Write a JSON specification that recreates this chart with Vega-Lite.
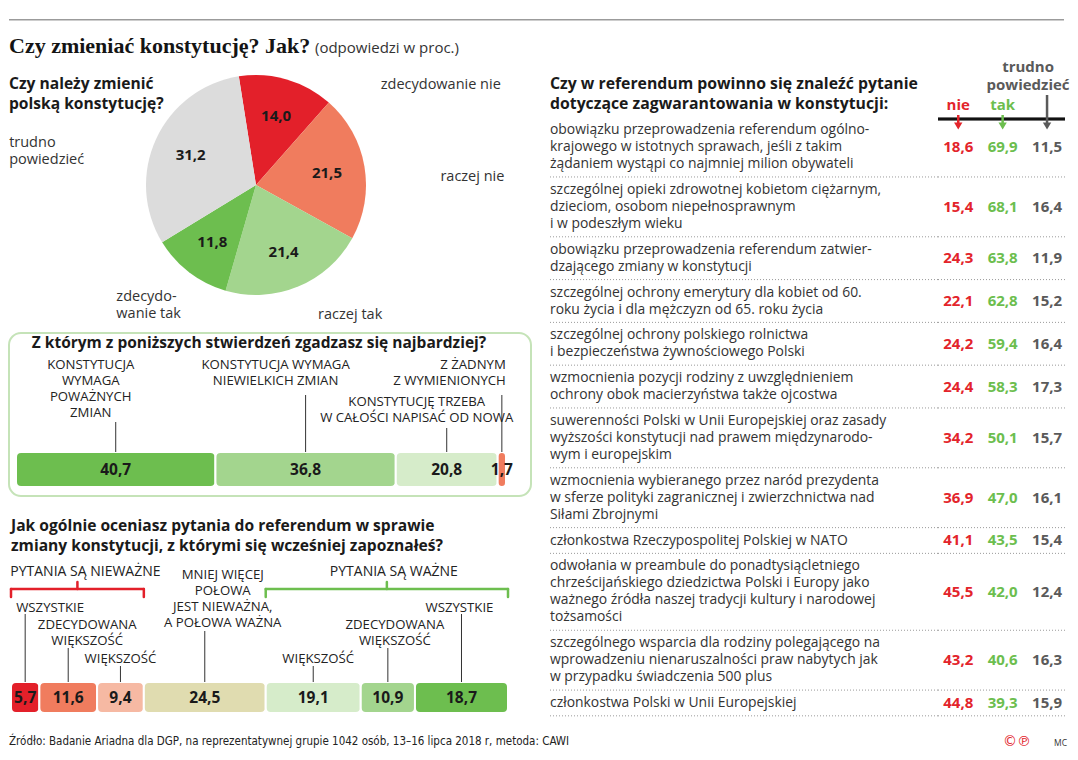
{
  "$schema": "https://vega.github.io/schema/vega-lite/v6.json",
  "background": "white",
  "padding": {"left": 8, "top": 19, "right": 0, "bottom": 0},
  "spacing": 0,
  "resolve": {"scale": {"color": "independent"}},
  "config": {"view": {"stroke": null}, "font": "Open Sans"},
  "datasets": {
    "tab": [
      {"q": ["obowiązku przeprowadzenia referendum ogólno-", "krajowego w istotnych sprawach, jeśli z takim", "żądaniem wystąpi co najmniej milion obywateli"], "nie": 18.6, "tak": 69.9, "tp": 11.5},
      {"q": ["szczególnej opieki zdrowotnej kobietom ciężarnym,", "dzieciom, osobom niepełnosprawnym", "i w podeszłym wieku"], "nie": 15.4, "tak": 68.1, "tp": 16.4},
      {"q": ["obowiązku przeprowadzenia referendum zatwier-", "dzającego zmiany w konstytucji"], "nie": 24.3, "tak": 63.8, "tp": 11.9},
      {"q": ["szczególnej ochrony emerytury dla kobiet od 60.", "roku życia i dla mężczyzn od 65. roku życia"], "nie": 22.1, "tak": 62.8, "tp": 15.2},
      {"q": ["szczególnej ochrony polskiego rolnictwa", "i bezpieczeństwa żywnościowego Polski"], "nie": 24.2, "tak": 59.4, "tp": 16.4},
      {"q": ["wzmocnienia pozycji rodziny z uwzględnieniem", "ochrony obok macierzyństwa także ojcostwa"], "nie": 24.4, "tak": 58.3, "tp": 17.3},
      {"q": ["suwerenności Polski w Unii Europejskiej oraz zasady", "wyższości konstytucji nad prawem międzynarodo-", "wym i europejskim"], "nie": 34.2, "tak": 50.1, "tp": 15.7},
      {"q": ["wzmocnienia wybieranego przez naród prezydenta", "w sferze polityki zagranicznej i zwierzchnictwa nad", "Siłami Zbrojnymi"], "nie": 36.9, "tak": 47.0, "tp": 16.1},
      {"q": ["członkostwa Rzeczypospolitej Polskiej w NATO"], "nie": 41.1, "tak": 43.5, "tp": 15.4},
      {"q": ["odwołania w preambule do ponadtysiącletniego", "chrześcijańskiego dziedzictwa Polski i Europy jako", "ważnego źródła naszej tradycji kultury i narodowej", "tożsamości"], "nie": 45.5, "tak": 42.0, "tp": 12.4},
      {"q": ["szczególnego wsparcia dla rodziny polegającego na", "wprowadzeniu nienaruszalności praw nabytych jak", "w przypadku świadczenia 500 plus"], "nie": 43.2, "tak": 40.6, "tp": 16.3},
      {"q": ["członkostwa Polski w Unii Europejskiej"], "nie": 44.8, "tak": 39.3, "tp": 15.9}
    ],
    "hdr": [
      {"key": "nie", "t": "nie"},
      {"key": "tak", "t": "tak"},
      {"key": "tp", "t": ["trudno", "powiedzieć"]}
    ]
  },
  "vconcat": [
    {
      "width": 1070,
      "height": 40,
      "view": {"fill": "white", "stroke": null},
      "data": {"values": [{"t": "Czy zmieniać konstytucję? Jak?", "s": "(odpowiedzi w proc.)"}]},
      "layer": [
        {"mark": {"type": "rule", "color": "#9b9b9b", "strokeWidth": 1.5}, "encoding": {"x": {"value": 0}, "x2": {"value": 1055}, "y": {"value": 0.75}}},
        {"mark": {"type": "text", "font": "Liberation Serif", "fontSize": 22, "fontWeight": "bold", "align": "left", "baseline": "alphabetic", "color": "#141414"}, "encoding": {"x": {"value": 0}, "y": {"value": 34}, "text": {"field": "t"}}},
        {"mark": {"type": "text", "fontSize": 15, "align": "left", "baseline": "alphabetic", "color": "#333333"}, "encoding": {"x": {"value": 306}, "y": {"value": 34}, "text": {"field": "s"}}}
      ]
    },
    {
      "spacing": 17,
      "resolve": {"scale": {"color": "independent"}},
      "hconcat": [
        {
          "spacing": 22,
          "bounds": "flush",
          "resolve": {"scale": {"color": "independent"}},
          "vconcat": [
            {
              "width": 494,
              "height": 252,
              "data": {"values": [
                {"k": "zn", "lab": "zdecydowanie nie", "v": 14.0},
                {"k": "rn", "lab": "raczej nie", "v": 21.5},
                {"k": "rt", "lab": "raczej tak", "v": 21.4},
                {"k": "zt", "lab": ["zdecydo-", "wanie tak"], "v": 11.8},
                {"k": "tp", "lab": ["trudno", "powiedzieć"], "v": 31.2}
              ]},
              "transform": [
                {"window": [{"op": "sum", "field": "v", "as": "end"}], "frame": [null, 0]},
                {"calculate": "datum.end - datum.v", "as": "start"},
                {"calculate": "datum.end - datum.v / 2", "as": "mid"},
                {"calculate": "replace(format(datum.v, '.1f'), '.', ',')", "as": "lbl"}
              ],
              "layer": [
                {
                  "mark": {"type": "arc", "radius": 110},
                  "encoding": {
                    "theta": {"field": "start", "type": "quantitative", "stack": null, "scale": {"domain": [0, 99.9], "range": [-0.157, 6.126]}},
                    "theta2": {"field": "end"},
                    "color": {"field": "k", "type": "nominal", "scale": {"domain": ["zn", "rn", "rt", "zt", "tp"], "range": ["#e3202a", "#f07c5e", "#a3d58e", "#6dbe4f", "#dcdcdc"]}, "legend": null}
                  }
                },
                {
                  "mark": {"type": "text", "radius": 72, "fontSize": 15, "fontWeight": "bold", "color": "#1a1a1a"},
                  "encoding": {
                    "theta": {"field": "mid", "type": "quantitative", "stack": null, "scale": {"domain": [0, 99.9], "range": [-0.157, 6.126]}},
                    "text": {"field": "lbl"}
                  }
                },
                {
                  "mark": {"type": "text", "radius": 110, "align": "left", "baseline": "top", "fontSize": 14.5, "lineHeight": 17.6, "color": "#333333",
                    "dx": {"expr": "datum.k == 'zn' ? 94 : datum.k == 'rn' ? 76 : datum.k == 'rt' ? 20 : datum.k == 'zt' ? -73 : -147"},
                    "dy": {"expr": "datum.k == 'zn' ? -1.1 : datum.k == 'rn' ? 3.9 : datum.k == 'rt' ? 20.9 : datum.k == 'zt' ? 17.4 : -3.1"}},
                  "encoding": {
                    "theta": {"field": "mid", "type": "quantitative", "stack": null, "scale": {"domain": [0, 99.9], "range": [-0.157, 6.126]}},
                    "text": {"field": "lab"}
                  }
                },
                {
                  "data": {"values": [{"t": ["Czy należy zmienić", "polską konstytucję?"]}]},
                  "mark": {"type": "text", "align": "left", "baseline": "top", "fontSize": 15.6, "fontWeight": "bold", "lineHeight": 20, "color": "#1a1a1a"},
                  "encoding": {"x": {"value": 0}, "y": {"value": 18.4}, "text": {"field": "t"}}
                }
              ]
            },
            {
              "width": 522,
              "height": 163,
              "view": {"stroke": "#c5e3b8", "strokeWidth": 2, "cornerRadius": 12},
              "data": {"values": [
                {"k": "pow", "v": 40.7, "lab": ["KONSTYTUCJA", "WYMAGA", "POWAŻNYCH", "ZMIAN"]},
                {"k": "nie", "v": 36.8, "lab": ["KONSTYTUCJA WYMAGA", "NIEWIELKICH ZMIAN"]},
                {"k": "now", "v": 20.8, "lab": ["KONSTYTUCJĘ TRZEBA", "W CAŁOŚCI NAPISAĆ OD NOWA"]},
                {"k": "zad", "v": 1.7, "lab": ["Z ŻADNYM", "Z WYMIENIONYCH"]}
              ]},
              "transform": [
                {"window": [{"op": "sum", "field": "v", "as": "end"}], "frame": [null, 0]},
                {"calculate": "datum.end - datum.v", "as": "start"},
                {"calculate": "datum.end - datum.v / 2", "as": "mid"},
                {"calculate": "replace(format(datum.v, '.1f'), '.', ',')", "as": "lbl"}
              ],
              "layer": [
                {
                  "mark": {"type": "bar", "cornerRadius": 5, "stroke": "white", "strokeWidth": 2},
                  "encoding": {
                    "x": {"field": "start", "type": "quantitative", "scale": {"domain": [-1.43, 105.1], "nice": false, "zero": false}, "axis": null},
                    "x2": {"field": "end"},
                    "y": {"value": 119},
                    "y2": {"value": 154},
                    "color": {"field": "k", "type": "nominal", "scale": {"domain": ["pow", "nie", "now", "zad"], "range": ["#6dbe4f", "#a3d58e", "#d6ecca", "#f07c5e"]}, "legend": null}
                  }
                },
                {
                  "mark": {"type": "text", "fontSize": 15.5, "fontWeight": "bold", "color": "#1a1a1a", "baseline": "middle"},
                  "encoding": {"x": {"field": "mid", "type": "quantitative"}, "y": {"value": 137}, "text": {"field": "lbl"}}
                },
                {
                  "mark": {"type": "rule", "color": "#333333", "strokeWidth": 1},
                  "encoding": {
                    "x": {"field": "mid", "type": "quantitative"},
                    "y": {"value": {"expr": "datum.k == 'pow' ? 89 : datum.k == 'now' ? 95 : 62"}},
                    "y2": {"value": 119}
                  }
                },
                {
                  "mark": {"type": "text", "baseline": "top", "fontSize": 13.2, "lineHeight": 16, "color": "#222222",
                    "align": {"expr": "datum.k == 'zad' ? 'right' : 'center'"},
                    "dx": {"expr": "datum.k == 'pow' ? -25 : datum.k == 'nie' ? -30 : datum.k == 'now' ? -30 : 4"}},
                  "encoding": {
                    "x": {"field": "mid", "type": "quantitative"},
                    "y": {"value": {"expr": "datum.k == 'now' ? 62.5 : 25.5"}},
                    "text": {"field": "lab"}
                  }
                },
                {
                  "data": {"values": [{"t": "Z którym z poniższych stwierdzeń zgadzasz się najbardziej?"}]},
                  "mark": {"type": "text", "align": "center", "baseline": "middle", "fontSize": 15.5, "fontWeight": "bold", "color": "#1a1a1a"},
                  "encoding": {"x": {"value": 250}, "y": {"value": 10}, "text": {"field": "t"}}
                }
              ]
            },
            {
              "width": 500,
              "height": 197,
              "data": {"values": [
                {"k": "n3", "grp": "n", "gl": "PYTANIA SĄ NIEWAŻNE", "v": 5.7, "lab": ["WSZYSTKIE"]},
                {"k": "n2", "grp": "n", "gl": "PYTANIA SĄ NIEWAŻNE", "v": 11.6, "lab": ["ZDECYDOWANA", "WIĘKSZOŚĆ"]},
                {"k": "n1", "grp": "n", "gl": "PYTANIA SĄ NIEWAŻNE", "v": 9.4, "lab": ["WIĘKSZOŚĆ"]},
                {"k": "m", "grp": "m", "gl": "", "v": 24.5, "lab": ["MNIEJ WIĘCEJ", "POŁOWA", "JEST NIEWAŻNA,", "A POŁOWA WAŻNA"]},
                {"k": "t1", "grp": "t", "gl": "PYTANIA SĄ WAŻNE", "v": 19.1, "lab": ["WIĘKSZOŚĆ"]},
                {"k": "t2", "grp": "t", "gl": "PYTANIA SĄ WAŻNE", "v": 10.9, "lab": ["ZDECYDOWANA", "WIĘKSZOŚĆ"]},
                {"k": "t3", "grp": "t", "gl": "PYTANIA SĄ WAŻNE", "v": 18.7, "lab": ["WSZYSTKIE"]}
              ]},
              "transform": [
                {"window": [{"op": "sum", "field": "v", "as": "end"}], "frame": [null, 0]},
                {"calculate": "datum.end - datum.v", "as": "start"},
                {"calculate": "datum.end - datum.v / 2", "as": "mid"},
                {"calculate": "replace(format(datum.v, '.1f'), '.', ',')", "as": "lbl"}
              ],
              "resolve": {"scale": {"color": "independent"}},
              "layer": [
                {
                  "mark": {"type": "bar", "cornerRadius": 5, "stroke": "white", "strokeWidth": 2},
                  "encoding": {
                    "x": {"field": "start", "type": "quantitative", "scale": {"domain": [-0.402, 100.1], "nice": false, "zero": false}, "axis": null},
                    "x2": {"field": "end"},
                    "y": {"value": 164},
                    "y2": {"value": 195},
                    "color": {"field": "k", "type": "nominal", "scale": {"domain": ["n3", "n2", "n1", "m", "t1", "t2", "t3"], "range": ["#e3202a", "#f07c5e", "#f6b9a3", "#e0dcb0", "#d6ecca", "#a3d58e", "#6dbe4f"]}, "legend": null}
                  }
                },
                {
                  "mark": {"type": "text", "fontSize": 15.5, "fontWeight": "bold", "color": "#1a1a1a", "baseline": "middle"},
                  "encoding": {"x": {"field": "mid", "type": "quantitative"}, "y": {"value": 180}, "text": {"field": "lbl"}}
                },
                {
                  "mark": {"type": "rule", "color": "#333333", "strokeWidth": 1},
                  "encoding": {
                    "x": {"field": "mid", "type": "quantitative"},
                    "y": {"value": {"expr": "(datum.k == 'n3' || datum.k == 't3') ? 96 : (datum.k == 'n2' || datum.k == 't2') ? 130 : datum.k == 'm' ? 113 : 148"}},
                    "y2": {"value": 164}
                  }
                },
                {
                  "mark": {"type": "text", "baseline": "top", "fontSize": 13.2, "lineHeight": 16, "color": "#222222",
                    "align": {"expr": "datum.k == 'n3' ? 'left' : 'center'"},
                    "dx": {"expr": "datum.k == 'n3' ? -9 : datum.k == 'n2' ? 19 : datum.k == 'm' ? 18 : datum.k == 't1' ? 5 : datum.k == 't2' ? 7 : datum.k == 't3' ? -2 : 0"}},
                  "encoding": {
                    "x": {"field": "mid", "type": "quantitative"},
                    "y": {"value": {"expr": "(datum.k == 'n3' || datum.k == 't3') ? 83.5 : (datum.k == 'n2' || datum.k == 't2') ? 100.5 : datum.k == 'm' ? 50.5 : 134.5"}},
                    "text": {"field": "lab"}
                  }
                },
                {
                  "transform": [
                    {"filter": "datum.grp != 'm'"},
                    {"aggregate": [{"op": "min", "field": "start", "as": "gs"}, {"op": "max", "field": "end", "as": "ge"}], "groupby": ["grp", "gl"]},
                    {"calculate": "(datum.gs + datum.ge) / 2", "as": "gm"}
                  ],
                  "layer": [
                    {
                      "mark": {"type": "rule", "strokeWidth": 2.5, "strokeCap": "round"},
                      "encoding": {
                        "x": {"field": "gs", "type": "quantitative"},
                        "x2": {"field": "ge"},
                        "y": {"value": 71},
                        "color": {"field": "grp", "type": "nominal", "scale": {"domain": ["n", "t"], "range": ["#e3202a", "#6dbe4f"]}, "legend": null}
                      }
                    },
                    {
                      "mark": {"type": "rule", "strokeWidth": 2.5, "strokeCap": "round"},
                      "encoding": {
                        "x": {"field": "gs", "type": "quantitative"},
                        "y": {"value": 71},
                        "y2": {"value": 79},
                        "color": {"field": "grp", "type": "nominal", "scale": {"domain": ["n", "t"], "range": ["#e3202a", "#6dbe4f"]}, "legend": null}
                      }
                    },
                    {
                      "mark": {"type": "rule", "strokeWidth": 2.5, "strokeCap": "round"},
                      "encoding": {
                        "x": {"field": "ge", "type": "quantitative"},
                        "y": {"value": 71},
                        "y2": {"value": 79},
                        "color": {"field": "grp", "type": "nominal", "scale": {"domain": ["n", "t"], "range": ["#e3202a", "#6dbe4f"]}, "legend": null}
                      }
                    },
                    {
                      "mark": {"type": "rule", "strokeWidth": 2.5, "strokeCap": "round"},
                      "encoding": {
                        "x": {"field": "gm", "type": "quantitative"},
                        "y": {"value": 64},
                        "y2": {"value": 71},
                        "color": {"field": "grp", "type": "nominal", "scale": {"domain": ["n", "t"], "range": ["#e3202a", "#6dbe4f"]}, "legend": null}
                      }
                    },
                    {
                      "mark": {"type": "text", "fontSize": 14, "baseline": "middle", "color": "#222222",
                        "dx": {"expr": "datum.grp == 'n' ? 8 : 7"}},
                      "encoding": {
                        "x": {"field": "gm", "type": "quantitative"},
                        "y": {"value": 54},
                        "text": {"field": "gl"}
                      }
                    }
                  ]
                },
                {
                  "data": {"values": [{"t": ["Jak ogólnie oceniasz pytania do referendum w sprawie", "zmiany konstytucji, z którymi się wcześniej zapoznałeś?"]}]},
                  "mark": {"type": "text", "align": "left", "baseline": "top", "fontSize": 15.6, "fontWeight": "bold", "lineHeight": 20, "color": "#1a1a1a"},
                  "encoding": {"x": {"value": 2}, "y": {"value": 1.4}, "text": {"field": "t"}}
                }
              ]
            }
          ]
        },
        {
          "spacing": 0,
          "bounds": "flush",
          "resolve": {"scale": {"color": "independent"}},
          "hconcat": [
            {
              "width": 388,
              "height": 657,
              "layer": [
                {
                  "data": {"values": [{"t": ["Czy w referendum powinno się znaleźć pytanie", "dotyczące zagwarantowania w konstytucji:"]}]},
                  "mark": {"type": "text", "align": "left", "baseline": "top", "fontSize": 15.8, "fontWeight": "bold", "lineHeight": 20.3, "color": "#1a1a1a"},
                  "encoding": {"x": {"value": 0}, "y": {"value": 17.5}, "text": {"field": "t"}}
                },
                {
                  "data": {"name": "tab"},
                  "transform": [
                    {"calculate": "length(datum.q) + 0.51", "as": "h"},
                    {"window": [{"op": "sum", "field": "h", "as": "ye"}], "frame": [null, 0]},
                    {"calculate": "datum.ye - datum.h / 2 - (length(datum.q) - 1) / 2", "as": "yt"}
                  ],
                  "mark": {"type": "text", "align": "left", "baseline": "top", "dy": -6.8, "fontSize": 13.9, "lineHeight": 17, "color": "#333333"},
                  "encoding": {
                    "x": {"value": 0},
                    "y": {"field": "yt", "type": "quantitative", "scale": {"domain": [-3.41, 35.13], "reverse": true, "nice": false, "zero": false}, "axis": null},
                    "text": {"field": "q"}
                  }
                },
                {
                  "data": {"name": "tab"},
                  "transform": [
                    {"calculate": "length(datum.q) + 0.51", "as": "h"},
                    {"window": [{"op": "sum", "field": "h", "as": "ye"}], "frame": [null, 0]}
                  ],
                  "mark": {"type": "rule", "color": "#9a9a9a", "strokeWidth": 1, "strokeDash": [1, 2]},
                  "encoding": {
                    "x": {"value": 0},
                    "x2": {"value": "width"},
                    "y": {"field": "ye", "type": "quantitative", "axis": null}
                  }
                }
              ]
            },
            {
              "width": 127,
              "height": 657,
              "layer": [
                {
                  "data": {"name": "tab"},
                  "transform": [
                    {"calculate": "length(datum.q) + 0.51", "as": "h"},
                    {"window": [{"op": "sum", "field": "h", "as": "ye"}], "frame": [null, 0]}
                  ],
                  "mark": {"type": "rule", "color": "#9a9a9a", "strokeWidth": 1, "strokeDash": [1, 2]},
                  "encoding": {
                    "x": {"value": 0},
                    "x2": {"value": "width"},
                    "y": {"field": "ye", "type": "quantitative", "scale": {"domain": [-3.41, 35.13], "reverse": true, "nice": false, "zero": false}, "axis": null}
                  }
                },
                {
                  "data": {"name": "tab"},
                  "transform": [
                    {"calculate": "length(datum.q) + 0.51", "as": "h"},
                    {"window": [{"op": "sum", "field": "h", "as": "ye"}], "frame": [null, 0]},
                    {"calculate": "datum.ye - datum.h / 2", "as": "yc"},
                    {"fold": ["nie", "tak", "tp"], "as": ["key", "val"]},
                    {"calculate": "replace(format(datum.val, '.1f'), '.', ',')", "as": "lbl"}
                  ],
                  "mark": {"type": "text", "fontSize": 15, "fontWeight": "bold", "baseline": "middle", "align": "center"},
                  "encoding": {
                    "x": {"field": "key", "type": "nominal", "scale": {"type": "point", "domain": ["nie", "tak", "tp"], "padding": 0.43, "align": 0.53}, "axis": null},
                    "y": {"field": "yc", "type": "quantitative", "axis": null},
                    "text": {"field": "lbl"},
                    "color": {"field": "key", "type": "nominal", "scale": {"domain": ["nie", "tak", "tp"], "range": ["#e3242b", "#6cbe4e", "#5a5a5a"]}, "legend": null}
                  }
                },
                {
                  "data": {"name": "hdr"},
                  "mark": {"type": "rule", "color": "#111111", "strokeWidth": 2.5},
                  "encoding": {"x": {"value": 0}, "x2": {"value": "width"}, "y": {"value": 60}}
                },
                {
                  "data": {"name": "hdr"},
                  "mark": {"type": "rule", "strokeWidth": 2.5},
                  "encoding": {
                    "x": {"field": "key", "type": "nominal"},
                    "y": {"value": {"expr": "datum.key == 'tp' ? 36 : 56"}},
                    "y2": {"value": 66},
                    "color": {"field": "key", "type": "nominal", "legend": null}
                  }
                },
                {
                  "data": {"name": "hdr"},
                  "mark": {"type": "point", "shape": "triangle-down", "size": 70, "filled": true, "opacity": 1},
                  "encoding": {
                    "x": {"field": "key", "type": "nominal"},
                    "y": {"value": 67},
                    "color": {"field": "key", "type": "nominal", "legend": null}
                  }
                },
                {
                  "data": {"name": "hdr"},
                  "mark": {"type": "text", "fontSize": 15, "fontWeight": "bold", "baseline": "top", "align": "center", "lineHeight": 18.3,
                    "dx": {"expr": "datum.key == 'tp' ? -19 : 0"}},
                  "encoding": {
                    "x": {"field": "key", "type": "nominal"},
                    "y": {"value": {"expr": "datum.key == 'tp' ? 0.6 : 38.6"}},
                    "text": {"field": "t"},
                    "color": {"field": "key", "type": "nominal", "legend": null}
                  }
                }
              ]
            }
          ]
        }
      ]
    },
    {
      "width": 1070,
      "height": 43,
      "data": {"values": [{"src": "Źródło: Badanie Ariadna dla DGP, na reprezentatywnej grupie 1042 osób, 13–16 lipca 2018 r, metoda: CAWI", "cp": "©℗", "mc": "MC"}]},
      "layer": [
        {"mark": {"type": "text", "align": "left", "baseline": "middle", "font": "Liberation Sans Narrow, DejaVu Sans Condensed, Roboto", "fontSize": 11.5, "color": "#222222"}, "encoding": {"x": {"value": 0}, "y": {"value": 25}, "text": {"field": "src"}}},
        {"mark": {"type": "text", "align": "center", "baseline": "middle", "font": "DejaVu Sans", "fontSize": 14, "color": "#e3242b"}, "encoding": {"x": {"value": 1008}, "y": {"value": 25}, "text": {"field": "cp"}}},
        {"mark": {"type": "text", "align": "left", "baseline": "middle", "fontSize": 8.5, "color": "#333333"}, "encoding": {"x": {"value": 1045}, "y": {"value": 26}, "text": {"field": "mc"}}}
      ]
    }
  ]
}
